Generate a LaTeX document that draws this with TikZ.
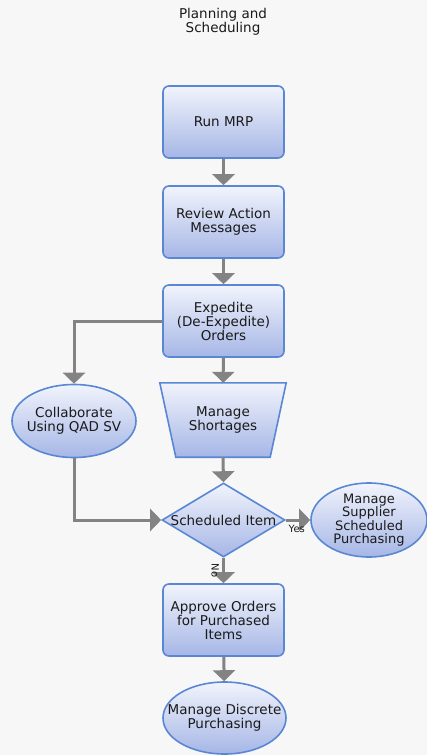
\documentclass[tikz,border=0pt]{standalone}
\usepackage{fontspec}
\setmainfont{DejaVu Sans}
\usetikzlibrary{shapes.geometric,arrows.meta}
\definecolor{bgc}{HTML}{F7F7F7}
\definecolor{bordc}{HTML}{5A87D4}
\definecolor{topc}{HTML}{F1F4FC}
\definecolor{botc}{HTML}{A6B6E6}
\definecolor{arrc}{HTML}{838383}
\definecolor{txtc}{HTML}{1A1A1A}
\tikzset{
  txt/.style={font=\fontsize{13.5}{14}\selectfont, align=center, text=txtc},
  fillsty/.style={draw=bordc, line width=1.6pt, top color=topc, bottom color=botc},
  procbox/.style={fillsty, rectangle, rounded corners=6pt, minimum width=121pt, minimum height=72pt, inner sep=0pt, txt},
  ellbox/.style={fillsty, ellipse, inner sep=0pt},
  conn/.style={draw=arrc, line width=3pt, -{Triangle[width=22pt,length=11pt]}},
  small/.style={font=\fontsize{10}{11}\selectfont, text=txtc, inner sep=1pt},
}
\begin{document}
\begin{tikzpicture}[x=1pt,y=-1pt]
\fill[bgc] (0,0) rectangle (427,755);
\useasboundingbox (0,0) rectangle (427,755);
\node[txt] (title) at (223,22) {Planning and\\Scheduling};
\node[procbox] (mrp) at (223.5,122) {Run MRP};
\node[procbox] (ram) at (223.5,222) {Review Action\\Messages};
\node[procbox] (exp) at (223.5,321) {Expedite\\(De-Expedite)\\Orders};
% trapezoid
\node[minimum width=126pt, minimum height=74pt, inner sep=0pt] (sho) at (223,420) {};
\shade[fillsty] (sho.north west) -- (sho.north east) -- ([xshift=-16pt]sho.south east) -- ([xshift=16pt]sho.south west) -- cycle;
\node[txt] (shotxt) at (sho.center) {Manage\\Shortages};
\node[ellbox, minimum width=124pt, minimum height=73pt, label={[txt]center:Collaborate\\Using QAD SV}] (col) at (74,421) {};
\node[fillsty, diamond, inner sep=0pt, minimum width=123pt, minimum height=74pt] (dec) at (223.5,520) {};
\node[txt] (dectxt) at (dec.center) {Scheduled Item};
\node[ellbox, minimum width=116pt, minimum height=74pt, label={[txt, font=\fontsize{13}{13.5}\selectfont]center:Manage\\Supplier\\Scheduled\\Purchasing}] (sup) at (369,520) {};
\node[procbox] (app) at (223.5,620) {Approve Orders\\for Purchased\\Items};
\node[ellbox, minimum width=123pt, minimum height=72pt, label={[txt]center:Manage Discrete\\Purchasing}] (dis) at (224.5,718) {};
% connectors
\draw[conn] (mrp) -- (ram);
\draw[conn] (ram) -- (exp);
\draw[conn] (exp) -- (sho);
\draw[conn] (exp.west) -| (col.north);
\draw[conn] (sho.south) -- (dec.north);
\draw[conn] (col.south) |- (dec.west);
\draw[conn] (dec.east) -- (sup.west) node[pos=0.45, below=3pt, small] (yes) {Yes};
\draw[conn] (dec.south) -- (app.north) node[pos=0.5, xshift=-2pt, rotate=-90, anchor=north, small] (no) {No};
\draw[conn] (app) -- (dis);
\end{tikzpicture}
\end{document}
